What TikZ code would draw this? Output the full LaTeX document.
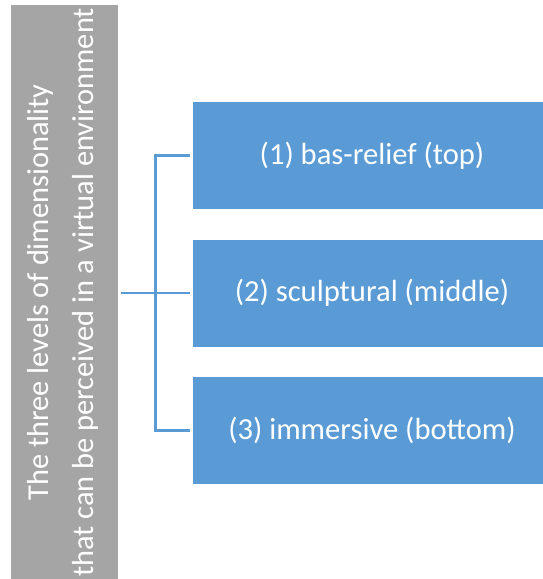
\documentclass[tikz,border=0pt]{standalone}
\usepackage{fontspec}
\setmainfont{Carlito}
\definecolor{boxblue}{HTML}{5B9BD5}
\definecolor{linkblue}{HTML}{5B9BD5}
\definecolor{sidegray}{HTML}{A5A5A5}
\tikzset{
  bluebox/.style={rectangle, fill=boxblue, draw=none, minimum width=350pt, minimum height=107pt, inner sep=0pt, text=white, font=\fontsize{30.6}{36}\selectfont},
  sidebox/.style={rectangle, fill=sidegray, draw=none, minimum width=107.5pt, minimum height=574.5pt, inner sep=0pt},
  sidetxt/.style={text=white, align=center, rotate=90, inner sep=0pt, font=\fontsize{30.4}{45}\selectfont},
  conn/.style={draw=linkblue, line width=2.4pt}
}
\begin{document}
\begin{tikzpicture}[x=1pt,y=-1pt]
\useasboundingbox (0,0) rectangle (543,579);
\node[sidebox] (side) at (64.25,291.75) {};
\node[sidetxt] (sidelabel) at (62.5,292.5) {The three levels of dimensionality\\that can be perceived in a virtual environment};
\node[bluebox] (b1) at (368,155.5) {\hspace*{8pt}(1) bas-relief (top)};
\node[bluebox] (b2) at (368,293) {\hspace*{8pt}(2) sculptural (middle)};
\node[bluebox] (b3) at (368,430.5) {\hspace*{8pt}(3) immersive (bottom)};
\coordinate (j) at (155.5,293);
\draw[conn, shorten <=2.5pt] (side.east |- j) -- (j);
\draw[conn, shorten >=3pt] (j) -- (b2.west);
\draw[conn, shorten >=3pt] (j) |- (b1.west);
\draw[conn, shorten >=3pt] (j) |- (b3.west);
\end{tikzpicture}
\end{document}
